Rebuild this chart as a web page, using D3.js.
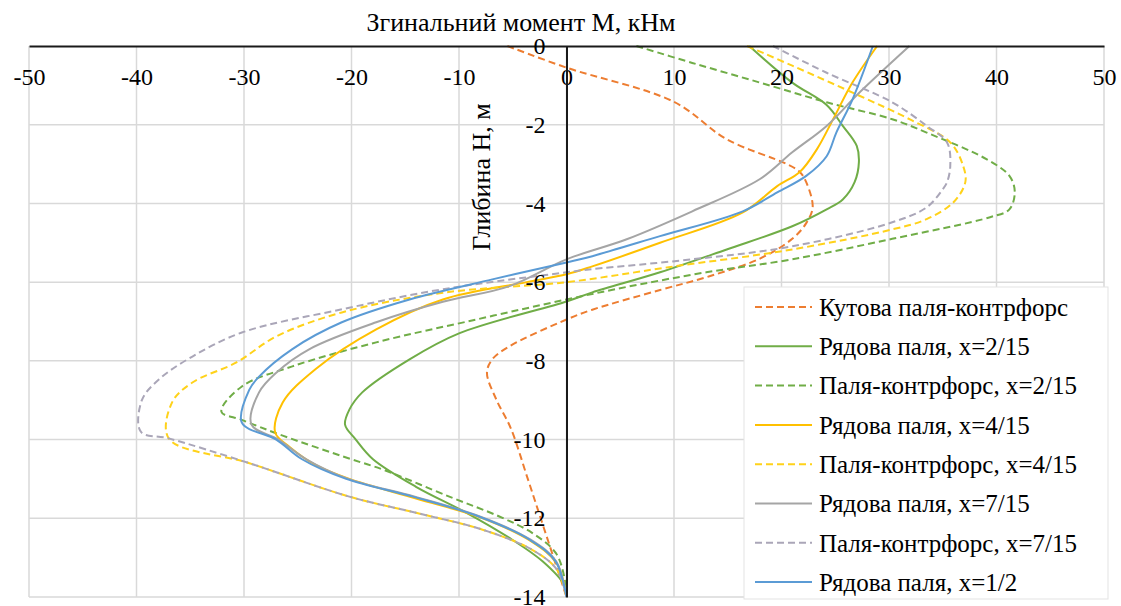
<!DOCTYPE html>
<html lang="uk">
<head>
<meta charset="utf-8">
<title>Згинальний момент</title>
<script src="https://d3js.org/d3.v7.min.js"></script>
<style>
  body { margin: 0; background: #fff; }
  .grid line { stroke: #d9d9d9; stroke-width: 1.5; }
  .series { fill: none; stroke-width: 2; }
</style>
</head>
<body>
<script>
// Kutova palia-kontrfors (orange dashed)
var depthKut = [0, -0.55, -1.42, -2.37, -3.0, -3.2, -3.46, -4.1, -4.5, -4.9, -5.4, -5.85, -6.2, -6.7, -6.95, -7.63, -7.96, -8.3, -9.0, -9.7, -11, -12, -13, -14];
var momKut   = [-5.5, 0, 10, 14.9, 20.5, 21.7, 22.3, 22.9, 22.3, 21, 18, 13.3, 8.7, 2.4, 0, -5.3, -6.9, -7.4, -6.5, -5.2, -3.6, -2.4, -1.2, 0];

// Riadova palia x=2/15 (green)
var depthR2 = [0, -0.93, -1.5, -2.03, -2.54, -2.95, -3.46, -3.9, -4.15, -4.58, -5.17, -5.75, -6.26, -6.49, -7.3, -7.96, -8.8, -9.24, -9.62, -10.0, -10.5, -11.2, -11.86, -12.5, -13.1, -13.7, -14];
var momR2   = [17, 21, 24.2, 25.7, 27, 27.2, 26.8, 25.7, 24.2, 21, 14.9, 8.7, 2.4, 0, -10, -14.6, -19, -20.2, -20.6, -19.6, -18, -14, -9.3, -5.3, -2.2, -0.2, 0];

// Palia-kontrfors x=2/15 (green dashed)
var depthK2 = [0, -0.43, -0.93, -1.43, -1.86, -2.2, -2.88, -3.3, -3.7, -4.15, -4.35, -4.9, -5.42, -5.75, -6.1, -6.44, -6.95, -7.53, -8.14, -8.65, -9.29, -9.5, -9.9, -10.5, -10.76, -11.45, -11.96, -12.37, -12.88, -13.5, -14];
var momK2   = [6.5, 11.7, 18, 24.2, 30.3, 33.5, 39.1, 41.2, 41.7, 41.2, 39.4, 30.3, 21, 13, 6, 0, -8.4, -17.7, -25.5, -30.2, -32.1, -30.2, -26.4, -20, -17.1, -10.9, -6.2, -3.2, -1, -0.2, 0];

// Riadova palia x=4/15 (yellow)
var depthR4 = [0, -0.93, -1.86, -2.62, -3.2, -3.56, -4.23, -5.0, -5.6, -5.8, -6.0, -6.44, -7.2, -8.2, -9.06, -9.82, -10.2, -10.65, -11.0, -11.5, -12.0, -12.6, -13.15, -14];
var momR4   = [28.9, 26.6, 24.8, 23.3, 21.7, 19.6, 16.4, 8.7, 2.4, 0, -3.7, -11.5, -17.7, -23.3, -26.4, -27.1, -25.7, -23.3, -20.2, -14, -7.8, -3.2, -0.9, 0];

// Palia-kontrfors x=4/15 (yellow dashed)
var depthK4 = [0, -0.5, -1.27, -1.86, -2.45, -3.05, -3.46, -3.97, -4.4, -4.66, -5.17, -5.62, -6.0, -6.27, -6.77, -7.38, -8.04, -8.55, -9.06, -9.97, -10.6, -11.45, -11.86, -12.29, -12.8, -13.3, -14];
var momK4   = [16.8, 21, 27.3, 31.9, 35.7, 36.9, 37.1, 36, 33.5, 30.3, 21, 9.5, 0, -11.5, -20.9, -27, -30.7, -34.8, -36.7, -37.0, -29.5, -20.2, -14, -7.8, -3.2, -0.9, 0];

// Riadova palia x=7/15 (gray)
var depthR7 = [0, -1.17, -2.03, -2.7, -3.38, -4.2, -4.91, -5.42, -6.1, -6.5, -7.02, -7.7, -8.3, -8.8, -9.62, -10.0, -10.5, -11.0, -11.45, -11.96, -12.55, -13.1, -14];
var momR7   = [31.9, 27.3, 24.2, 21, 18, 11.7, 5.6, 0, -5.3, -11.5, -17.7, -23.9, -27, -28.6, -29.3, -26.8, -24.2, -20.3, -14.1, -8, -3.3, -0.95, 0];

// Palia-kontrfors x=7/15 (gray dashed)
var depthK7 = [0, -0.68, -1.43, -2.03, -2.45, -3.05, -3.46, -3.64, -4.1, -4.48, -5.09, -5.42, -5.67, -5.75, -6.18, -6.69, -7.28, -7.89, -8.47, -9.0, -9.8, -9.97, -10.6, -11.45, -11.86, -12.29, -12.8, -13.3, -14];
var momK7   = [19.2, 24.2, 30.3, 33.5, 35.4, 35.7, 35.4, 35, 33.5, 30.3, 21, 11.7, 2.4, 0, -11.5, -20.9, -30.2, -34.8, -37.9, -39.5, -39.6, -37.0, -29.5, -20.2, -14, -7.8, -3.2, -0.9, 0];

// Riadova palia x=1/2 (blue)
var depthR12 = [0, -1.36, -2.2, -2.8, -3.3, -3.72, -4.2, -4.83, -5.34, -5.5, -5.93, -6.44, -7.02, -7.7, -8.4, -8.73, -9.57, -10.0, -10.5, -11.0, -11.45, -11.96, -12.55, -13.1, -14];
var momR12   = [28.5, 26.6, 25.1, 24.2, 22.3, 19.6, 16.4, 8.7, 2.4, 0, -6.9, -14.6, -20.9, -25.5, -28.6, -29.5, -30.2, -27, -24.6, -20.5, -14.3, -8.1, -3.4, -1.0, 0];

var xTicks = [-50, -40, -30, -20, -10, 0, 10, 20, 30, 40, 50];
var yTicks = [0, -2, -4, -6, -8, -10, -12, -14];

var series = [
  { name: "Кутова паля-контрфорс",       depth: depthKut, mom: momKut, color: "#ed7d31", dash: "7,4" },
  { name: "Рядова паля, x=2/15",          depth: depthR2,  mom: momR2,  color: "#70ad47", dash: null },
  { name: "Паля-контрфорс, x=2/15",       depth: depthK2,  mom: momK2,  color: "#70ad47", dash: "7,4" },
  { name: "Рядова паля, x=4/15",          depth: depthR4,  mom: momR4,  color: "#ffc000", dash: null },
  { name: "Паля-контрфорс, x=4/15",       depth: depthK4,  mom: momK4,  color: "#ffd21a", dash: "7,4" },
  { name: "Рядова паля, x=7/15",          depth: depthR7,  mom: momR7,  color: "#a5a5a5", dash: null },
  { name: "Паля-контрфорс, x=7/15",       depth: depthK7,  mom: momK7,  color: "#aaa6b8", dash: "7,4" },
  { name: "Рядова паля, x=1/2",           depth: depthR12, mom: momR12, color: "#5b9bd5", dash: null }
];

var serif = "'Liberation Serif', 'DejaVu Serif', 'Times New Roman', serif";
var width = 1121, height = 606;

var svg = d3.select("body").append("svg")
    .attr("width", width)
    .attr("height", height)
    .style("font-family", serif);

var x = d3.scaleLinear().domain([-50, 50]).range([29, 1104]);
var y = d3.scaleLinear().domain([0, -14]).range([46, 597]);

// gridlines
var grid = svg.append("g").attr("class", "grid");
grid.selectAll(".vg").data(xTicks).enter().append("line")
    .attr("x1", d => x(d)).attr("x2", d => x(d))
    .attr("y1", y(0)).attr("y2", y(-14));
grid.selectAll(".hg").data(yTicks.filter(d => d !== 0)).enter().append("line")
    .attr("x1", x(-50)).attr("x2", x(50))
    .attr("y1", d => y(d)).attr("y2", d => y(d));

// series
var line = d3.line()
    .x(d => x(d[1]))
    .y(d => y(d[0]))
    .curve(d3.curveCatmullRom.alpha(0.5));

series.forEach(function(s) {
  var pts = s.depth.map((h, i) => [h, s.mom[i]]);
  svg.append("path")
      .datum(pts)
      .attr("class", "series")
      .attr("stroke", s.color)
      .attr("stroke-dasharray", s.dash)
      .attr("d", line);
});

// x axis (top line, labels below it)
var xAxis = svg.append("g")
    .attr("transform", "translate(0," + y(0) + ")")
    .call(d3.axisBottom(x).tickValues(xTicks).tickSize(0).tickPadding(22).tickFormat(d => String(d)));
xAxis.attr("font-family", null).attr("font-size", null);
xAxis.select(".domain").attr("stroke", "#1a1a1a").attr("stroke-width", 2);
xAxis.selectAll("text").style("font-size", "24px").style("font-family", serif);

// y axis at M = 0
var yAxis = svg.append("g")
    .attr("transform", "translate(" + x(0) + ",0)")
    .call(d3.axisLeft(y).tickValues(yTicks).tickSize(0).tickPadding(21).tickFormat(d => String(d)));
yAxis.attr("font-family", null).attr("font-size", null);
yAxis.select(".domain").attr("stroke", "#1a1a1a").attr("stroke-width", 2);
yAxis.selectAll("text").style("font-size", "24px").style("font-family", serif);

// titles
svg.append("text")
    .attr("x", 521).attr("y", 31)
    .attr("text-anchor", "middle")
    .style("font-size", "26px")
    .style("font-family", serif)
    .text("Згинальний момент М, кНм");

svg.append("text")
    .attr("transform", "translate(481,177) rotate(-90)")
    .attr("text-anchor", "middle")
    .attr("dy", "0.35em")
    .style("font-size", "26px")
    .style("font-family", serif)
    .text("Глибина Н, м");

// legend
var legend = svg.append("g").attr("transform", "translate(744,287)");
legend.append("rect")
    .attr("width", 364).attr("height", 312)
    .attr("fill", "#fff")
    .attr("stroke", "#e3e3e3");

var items = legend.selectAll(".item").data(series).enter().append("g")
    .attr("transform", (d, i) => "translate(0," + (20 + i * 39.3) + ")");
items.append("line")
    .attr("x1", 11).attr("x2", 68)
    .attr("y1", 0).attr("y2", 0)
    .attr("stroke", d => d.color)
    .attr("stroke-width", 2)
    .attr("stroke-dasharray", d => d.dash);
items.append("text")
    .attr("x", 75).attr("dy", "0.35em")
    .style("font-size", "25px")
    .style("font-family", serif)
    .text(d => d.name);
</script>
</body>
</html>
